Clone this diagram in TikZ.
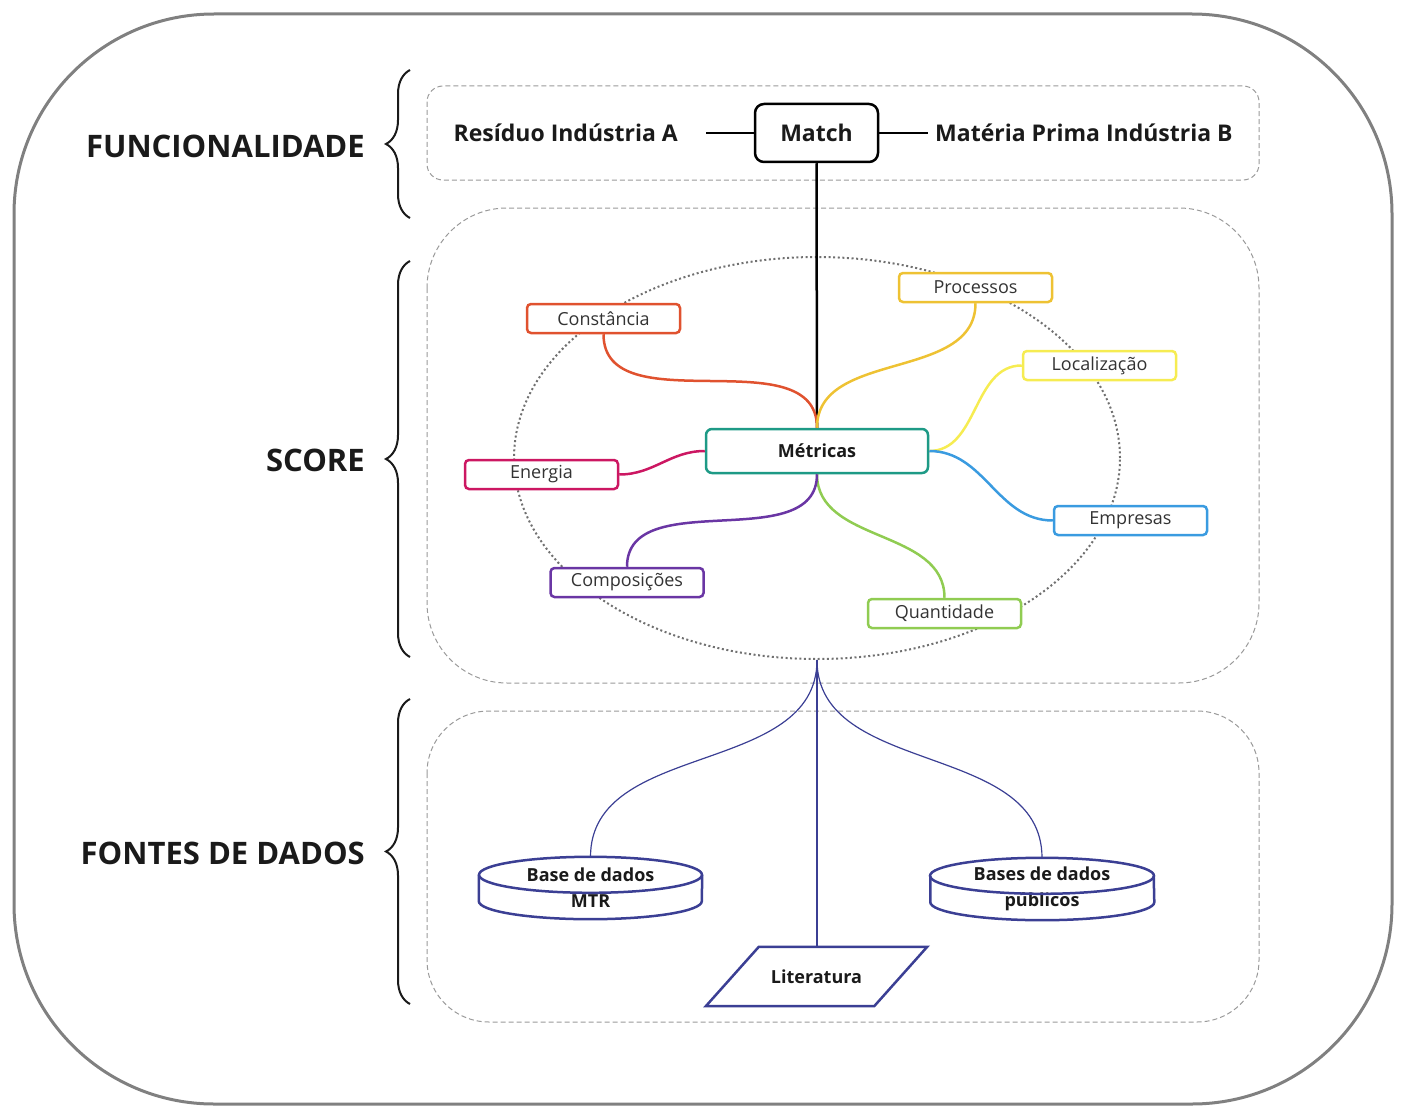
\documentclass[tikz,border=0pt]{standalone}
\usepackage{fontspec}
\setmainfont{Open Sans}
\usetikzlibrary{shapes.geometric,decorations.pathreplacing}

\definecolor{framegray}{HTML}{808080}
\definecolor{dashgray}{HTML}{9A9A9A}
\definecolor{ringgray}{HTML}{707070}
\definecolor{inkblack}{HTML}{1A1A1A}
\definecolor{textgray}{HTML}{333333}
\definecolor{teal}{HTML}{1E9A86}
\definecolor{conred}{HTML}{E0522F}
\definecolor{procgold}{HTML}{EEC233}
\definecolor{locyellow}{HTML}{F6EC52}
\definecolor{empblue}{HTML}{3A9BE0}
\definecolor{quagreen}{HTML}{90CC52}
\definecolor{comppurple}{HTML}{6A36A4}
\definecolor{enemagenta}{HTML}{CC1762}
\definecolor{navy}{HTML}{3B3F94}

\begin{document}
\begin{tikzpicture}
      [ x = 1pt, y = -1pt
      , panel/.style =
        { draw=dashgray, line width=1pt, dash pattern=on 5pt off 3pt }
      , title/.style =
        { anchor=east, inner sep=0pt, text=inkblack, font=\fontsize{31}{36}\selectfont\bfseries }
      , bracket/.style =
        { decorate, decoration={brace, amplitude=24pt}, line width=2pt, inkblack }
      , func/.style =
        { inner sep=0pt, text=inkblack, font=\fontsize{23}{27}\selectfont\bfseries }
      , metric/.style =
        { draw=#1, fill=white, rounded corners=4pt, line width=2.5pt, inner sep=0pt
        , minimum width=153pt, minimum height=29pt, text=textgray
        , font=\fontsize{18}{21}\selectfont }
      , link/.style =
        { draw=#1, line width=2.5pt }
      , store/.style =
        { inner sep=0pt, minimum width=223pt, minimum height=62pt, align=center
        , text=inkblack, font=\fontsize{18}{26}\selectfont\bfseries }
      , drum/.style =
        { navy, line width=2.5pt }
      , feed/.style =
        { navy, line width=1.2pt }
      ]
      \useasboundingbox (0,0) rectangle (1403,1113);
      % outer frame and panels
      \draw [framegray, line width=3pt, rounded corners=200pt] (14,14) rectangle (1392,1104);
      \draw [panel, rounded corners=16pt] (427,86) rectangle (1259,180);
      \draw [panel, rounded corners=80pt] (427,208) rectangle (1259,683);
      \draw [panel, rounded corners=62pt] (427,711) rectangle (1259,1022);
      % braces and titles
      \draw [bracket] (410,218) -- (410,70);
      \draw [bracket] (410,657) -- (410,261);
      \draw [bracket] (410,1004) -- (410,699);
      \node [title] (funcionalidade) at (365,146) {FUNCIONALIDADE};
      \node [title] (score) at (365,460) {SCORE};
      \node [title] (fontes) at (365,853) {FONTES DE DADOS};
      % match row
      \node [func, anchor=east] (residuo) at (678,133) {Resíduo Indústria A};
      \node [func, draw, line width=2.5pt, rounded corners=9pt, minimum width=123pt, minimum height=58pt]
        (match) at (816.5,133) {Match};
      \node [func, anchor=west] (materia) at (935,133) {Matéria Prima Indústria B};
      \draw [line width=2pt, shorten <=28pt] (residuo.east) -- (match.west);
      \draw [line width=2pt, shorten >=7pt] (match.east) -- (materia.west);
      % metrics
      \node [ellipse, draw=ringgray, line width=2pt, dash pattern=on 2pt off 2.6pt,
        minimum width=606pt, minimum height=402pt, inner sep=0pt] (ring) at (817,458) {};
      \node [metric=teal, minimum width=222pt, minimum height=44pt, rounded corners=6pt,
        text=inkblack, font=\fontsize{18}{21}\selectfont\bfseries] (metricas) at (817,451) {Métricas};
      \draw [line width=2.5pt] (match.south) -- (metricas.north);
      \node [metric=conred] (constancia) at (603.5,318.5) {Constância};
      \node [metric=procgold] (processos) at (975.5,287.5) {Processos};
      \node [metric=locyellow] (localizacao) at (1099.5,365.5) {Localização};
      \node [metric=empblue] (empresas) at (1130.5,520.5) {Empresas};
      \node [metric=quagreen] (quantidade) at (944.5,613.5) {Quantidade};
      \node [metric=comppurple] (composicoes) at (627,582.5) {Composições};
      \node [metric=enemagenta] (energia) at (541.5,474.5) {Energia};
      \draw [link=conred] (constancia.south) to [out=-90, in=90] (metricas.north);
      \draw [link=procgold] (processos.south) to [out=-90, in=90] (metricas.north);
      \draw [link=locyellow] (localizacao.west) to [out=180, in=0] (metricas.east);
      \draw [link=empblue] (empresas.west) to [out=180, in=0] (metricas.east);
      \draw [link=quagreen] (quantidade.north) to [out=90, in=-90] (metricas.south);
      \draw [link=comppurple] (composicoes.north) to [out=90, in=-90] (metricas.south);
      \draw [link=enemagenta] (energia.east) to [out=0, in=180] (metricas.west);
      % data sources
      \node [store] (mtr) at (590.5,888) {Base de dados\\MTR};
      \node [store] (publicos) at (1042,889) {Bases de dados\\públicos};
      \node [inner sep=0pt, minimum width=221pt, minimum height=59pt, text=inkblack,
        font=\fontsize{18}{21}\selectfont\bfseries] (literatura) at (816.5,976.5) {Literatura};
      \draw [drum] (mtr.north) ++(0,18) ellipse [x radius=111.5pt, y radius=18pt];
      \draw [drum] ([yshift=-18pt]mtr.north west) -- ([yshift=18pt]mtr.south west)
        arc [start angle=180, end angle=360, x radius=111.5pt, y radius=18pt] -- ([yshift=-18pt]mtr.north east);
      \draw [drum] (publicos.north) ++(0,18) ellipse [x radius=112pt, y radius=18pt];
      \draw [drum] ([yshift=-18pt]publicos.north west) -- ([yshift=18pt]publicos.south west)
        arc [start angle=180, end angle=360, x radius=112pt, y radius=18pt] -- ([yshift=-18pt]publicos.north east);
      \draw [drum] (literatura.south west) -- ([xshift=53pt]literatura.north west) -- (literatura.north east)
        -- ([xshift=-53pt]literatura.south east) -- cycle;
      \draw [feed] (ring.south) to [out=-90, in=90] (mtr.north);
      \draw [feed] (ring.south) -- (ring.south |- literatura.north);
      \draw [feed] (ring.south) to [out=-90, in=90] (publicos.north);
    \end{tikzpicture}
\end{document}
